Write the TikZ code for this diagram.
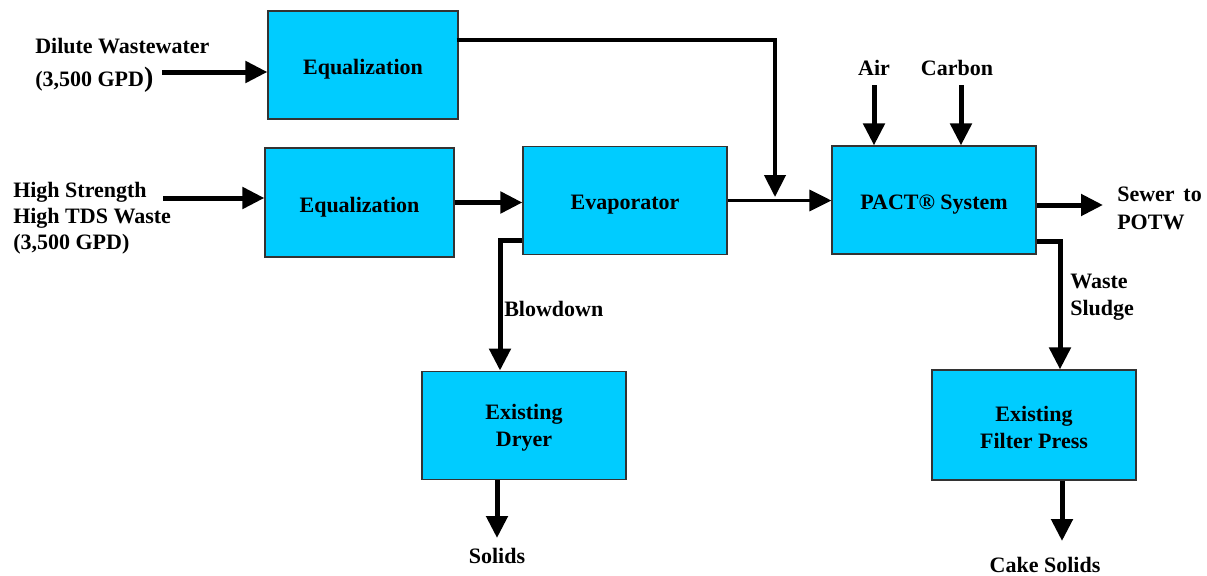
\documentclass[tikz,border=0pt]{standalone}
\usepackage{fontspec}
\setmainfont{Liberation Serif}
\usetikzlibrary{arrows.meta,calc}
\definecolor{boxfill}{HTML}{00CCFF}
\definecolor{boxline}{HTML}{333333}
\begin{document}
\begin{tikzpicture}[x=0.75pt,y=-0.75pt,
  font=\fontsize{16.5}{20}\selectfont\bfseries,
  box/.style={draw=boxline,line width=0.9pt,fill=boxfill,rectangle,inner sep=0pt,
     minimum width=153pt,minimum height=81.5pt},
  boxtext/.style={inner sep=0pt,align=center,yshift=-3.3pt},
  boxtextb/.style={inner sep=0pt,align=center,yshift=-1.8pt},
  lbl/.style={inner sep=0pt,align=left},
  flow/.style={line width=3.75pt,line join=miter,-{Triangle[length=16.5pt,width=15.75pt]}},
  flowthin/.style={flow,line width=2.6pt}]
\useasboundingbox (0,0) rectangle (1207,575);
% boxes
\node[box,minimum width=142.5pt,minimum height=81pt,label={[boxtext]center:Equalization}] (eqA) at (363,65) {};
\node[box,minimum width=141.75pt,minimum height=81.75pt,label={[boxtext]center:Equalization}] (eqB) at (359.5,202.5) {};
\node[box,label={[boxtext]center:Evaporator}] (evap) at (625,200.5) {};
\node[box,minimum height=81pt,label={[boxtext]center:PACT® System}] (pact) at (934,200) {};
\node[box,label={[boxtextb]center:Existing\\Dryer}] (dryer) at (524,425.5) {};
\node[box,minimum height=82.5pt,label={[boxtextb]center:Existing\\Filter Press}] (press) at (1034,425) {};
% labels
\node[lbl,anchor=west] (dil) at (35,46) {Dilute Wastewater};
\node[lbl,anchor=west] (dilq) at (35,80) {(3,500 GPD{\fontsize{21}{20}\selectfont)}};
\node[lbl,anchor=west] (high) at (13,218) {High Strength\\[-0.5pt]High TDS Waste\\[-0.5pt](3,500 GPD)};
\node[lbl] (air) at (874,68) {Air};
\node[lbl] (carbon) at (957,68) {Carbon};
\node[lbl,anchor=west] (sewer) at (1117,208) {Sewer\hspace{0.4em}to\\[1pt]POTW};
\node[lbl,anchor=west] (waste) at (1070,297.5) {Waste\\Sludge};
\node[lbl,anchor=west] (blow) at (504,309) {Blowdown};
\node[lbl] (solids) at (497,556) {Solids};
\node[lbl] (cake) at (1045,565) {Cake Solids};
% helper coordinates
\coordinate (dilS) at (162,72);
\coordinate (highS) at (163,198);
\coordinate (bend) at (775,40);
\coordinate (join) at (775,197);
\coordinate (airS) at (874,85);
\coordinate (carS) at (961,85);
\coordinate (sewT) at (1103,205);
\coordinate (ws) at (1060,241);
\coordinate (bd) at (500,240);
\coordinate (solT) at (497,538);
\coordinate (csT) at (1062,541);
% connectors
\draw[flow] (dilS) -- (dilS -| eqA.west);
\draw[flow] (highS) -- (highS -| eqB.west);
\draw[flow] (eqB.east) -- (eqB.east -| evap.west);
\draw[flow,line width=3.2pt] ([xshift=-1.5pt]eqA.east |- bend) -- (bend) -- (join);
\draw[flowthin] (evap.east) -- (evap.east -| pact.west);
\draw[flow] (airS) -- (airS |- pact.north);
\draw[flow] (carS) -- (carS |- pact.north);
\draw[flow] (pact.east |- sewT) -- (sewT);
\draw[flow] (pact.east |- ws) -- (ws) -- (ws |- press.north);
\draw[flow] (evap.west |- bd) -- (bd) -- (bd |- dryer.north);
\draw[flow] (solT |- dryer.south) -- (solT);
\draw[flow] (csT |- press.south) -- (csT);
\end{tikzpicture}
\end{document}
